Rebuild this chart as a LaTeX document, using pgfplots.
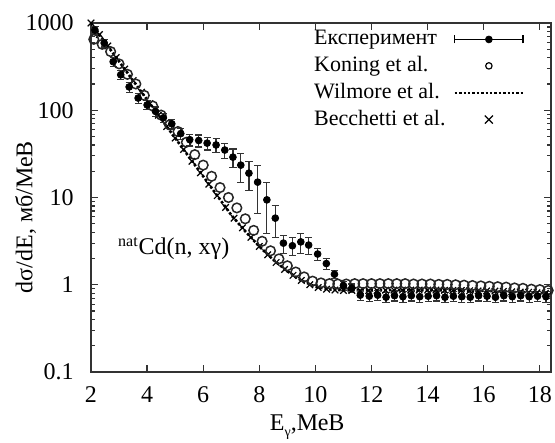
\documentclass[border=0pt]{standalone}
\usepackage{fontspec}
\setmainfont{Liberation Serif}
\usepackage{pgfplots}
\pgfplotsset{compat=1.18}
\usepackage{pgfplotstable}

% experiment: E, dsigma/dE, error
\pgfplotstableread{
x y e
2.14 830 80
2.47 590 60
2.79 360 40
3.06 255 30
3.36 185 25
3.68 138 18
4.00 115 14
4.30 97 12
4.58 82 10
4.88 70 9
5.20 54 8
5.52 46 7
5.84 45 7
6.14 42 7
6.46 40 7
6.77 35 7
7.06 29 7
7.34 23.5 8.5
7.63 19 7
7.94 15 8.5
8.27 9.4 5.5
8.57 5.8 2.3
8.86 3.0 0.7
9.18 2.8 0.65
9.48 3.1 0.8
9.76 2.85 0.65
10.08 2.25 0.35
10.39 1.75 0.25
10.68 1.32 0.15
11.00 0.98 0.12
11.30 0.92 0.1
11.60 0.76 0.1
11.92 0.74 0.1
12.22 0.76 0.1
12.52 0.72 0.1
12.82 0.75 0.1
13.12 0.73 0.1
13.42 0.75 0.1
13.72 0.73 0.1
14.02 0.74 0.1
14.32 0.75 0.1
14.62 0.72 0.1
14.92 0.74 0.1
15.22 0.73 0.1
15.52 0.72 0.1
15.82 0.75 0.1
16.12 0.74 0.1
16.42 0.72 0.1
16.72 0.75 0.1
17.02 0.73 0.1
17.32 0.75 0.1
17.62 0.73 0.1
17.92 0.74 0.1
18.22 0.73 0.1
}\expdata

\pgfplotstableread{
x y
2.1 650
2.4 570
2.7 470
3.0 340
3.3 258
3.6 200
3.9 148
4.2 112
4.5 88
4.8 68
5.1 57
5.4 43
5.7 31
6.0 23.5
6.3 17.5
6.6 13
6.9 10
7.2 7.6
7.5 5.7
7.8 4.2
8.1 3.15
8.4 2.45
8.7 1.98
9.0 1.65
9.3 1.4
9.6 1.23
9.9 1.1
10.2 1.05
10.5 1.03
10.8 1.02
11.1 1.02
11.4 1.03
11.7 1.03
12.0 1.03
12.3 1.03
12.6 1.03
12.9 1.03
13.2 1.03
13.5 1.02
13.8 1.02
14.1 1.02
14.4 1.01
14.7 1.01
15.0 1.0
15.3 0.99
15.6 0.98
15.9 0.97
16.2 0.96
16.5 0.95
16.8 0.94
17.1 0.92
17.4 0.91
17.7 0.89
18.0 0.88
18.3 0.86
}\koning

\pgfplotstableread{
x y
2.0 1000
2.5 600
3.0 363
3.5 219
4.0 132
4.5 80
5.0 48
5.5 29
6.0 17.5
6.5 10.5
7.0 6.3
7.5 4.1
8.0 2.75
8.5 1.93
9.0 1.43
9.5 1.12
10.0 0.95
10.5 0.885
11.0 0.865
12.0 0.86
13.0 0.87
14.0 0.87
15.0 0.86
16.0 0.85
17.0 0.83
18.0 0.81
18.4 0.79
}\wilmore

\pgfplotstableread{
x y
2.0 1000
2.3 738
2.6 545
2.9 402
3.2 296
3.5 219
3.8 161
4.1 119
4.4 88
4.7 65
5.0 48
5.3 35.5
5.6 26
5.9 19.2
6.2 14.2
6.5 10.5
6.8 7.7
7.1 5.8
7.4 4.5
7.7 3.5
8.0 2.75
8.3 2.2
8.6 1.8
8.9 1.5
9.2 1.28
9.5 1.12
9.8 1.0
10.1 0.93
10.4 0.89
10.7 0.87
11.0 0.86
11.3 0.86
11.6 0.86
11.9 0.86
12.2 0.86
12.5 0.865
12.8 0.87
13.1 0.87
13.4 0.87
13.7 0.87
14.0 0.87
14.3 0.87
14.6 0.865
14.9 0.86
15.2 0.86
15.5 0.855
15.8 0.85
16.1 0.85
16.4 0.845
16.7 0.84
17.0 0.83
17.3 0.825
17.6 0.82
17.9 0.81
18.2 0.80
}\becchetti

\begin{document}
\fontsize{12}{14}\selectfont
\begin{tikzpicture}
\begin{axis}[
  name=ax,
  scale only axis, width=230pt, height=174.5pt,
  xmin=2, xmax=18.4,
  ymode=log, ymin=0.1, ymax=1000,
  xtick={2,4,...,18},
  xticklabels={2,4,6,8,10,12,14,16,18},
  ytick={0.1,1,10,100,1000},
  yticklabels={0.1,1,10,100,1000},
  /pgf/number format/assume math mode=true,
  tick align=inside,
  major tick length=3.5pt, minor tick length=1.8pt,
  axis line style={line width=0.8pt, black!80},
  every tick/.style={black!80, line width=0.6pt},
  yticklabel style={xshift=-4.5pt},
  xticklabel style={yshift=-3pt},
  xlabel={E\raisebox{-0.6ex}{\scriptsize γ},МеВ},
  ylabel={dσ/dE, мб/МеВ},
  xlabel style={at={(axis description cs:0.47,-0.158)}, anchor=center},
  ylabel style={at={(axis description cs:-0.142,0.444)}, anchor=center},
  legend plot pos=right,
  legend cell align=left,
  legend style={draw=none, fill=none, at={(0.947,0.997)}, anchor=north east,
    row sep=0pt, column sep=2pt, inner sep=1pt,
    font=\fontsize{11}{13}\selectfont},
]
\addplot[forget plot, black, densely dotted, line width=1.3pt] table[x=x,y=y] {\wilmore};
\addplot[forget plot, black, only marks, mark=x, mark size=2.3pt, line width=0.6pt] table[x=x,y=y] {\becchetti};
\addplot[forget plot, black!85, only marks, mark=o, mark size=2.4pt, line width=0.75pt] table[x=x,y=y] {\koning};
\addplot[forget plot, black, only marks, mark=*, mark size=1.7pt,
  error bars/.cd, y dir=both, y explicit,
  error bar style={line width=0.6pt, black!80},
  error mark options={rotate=90, line width=0.6pt, mark size=1.8pt, black!80}]
  table[x=x,y=y,y error=e] {\expdata};

\addlegendimage{legend image code/.code={
  \draw[line width=0.6pt] (0cm,0cm)--(1.2cm,0cm) (0cm,-2pt)--(0cm,2pt) (1.2cm,-2pt)--(1.2cm,2pt);
  \fill (0.6cm,0cm) circle (1.7pt);}}
\addlegendentry{Експеримент}
\addlegendimage{legend image code/.code={
  \draw[line width=0.6pt] (0.6cm,0cm) circle (1.6pt);}}
\addlegendentry{Koning et al.}
\addlegendimage{legend image code/.code={
  \draw[densely dotted, line width=1.2pt] (0cm,0cm)--(1.2cm,0cm);}}
\addlegendentry{Wilmore et al.}
\addlegendimage{legend image code/.code={
  \draw[line width=0.6pt] (0.6cm,0cm) ++(-2pt,-2pt)--++(4pt,4pt) (0.6cm,0cm) ++(-2pt,2pt)--++(4pt,-4pt);}}
\addlegendentry{Becchetti et al.}

\node[anchor=center] at (axis cs:4.95,2.6) {\textsuperscript{nat}Cd(n, xγ)};
\end{axis}
\pgfresetboundingbox
\path ([xshift=-45.5pt,yshift=-35pt]ax.south west) rectangle ([xshift=2pt,yshift=11.5pt]ax.north east);
\end{tikzpicture}
\end{document}
